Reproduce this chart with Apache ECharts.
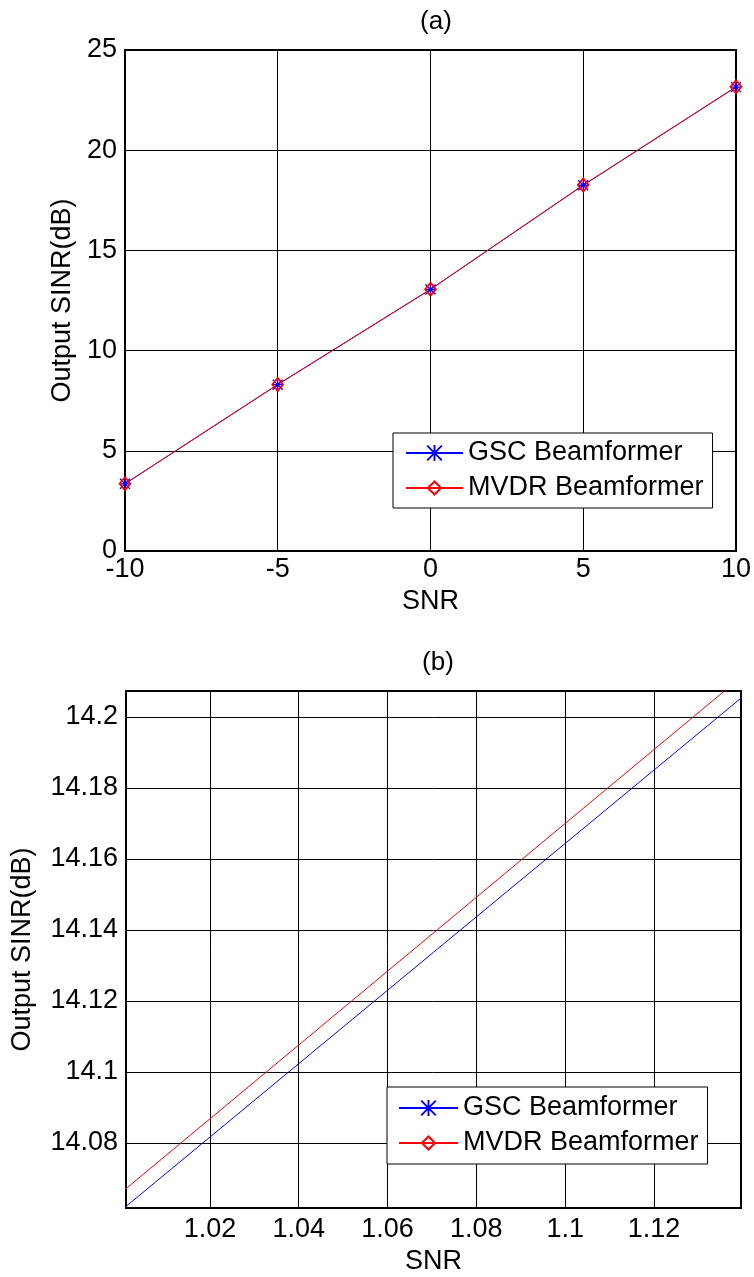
<!DOCTYPE html>
<html>
<head>
<meta charset="utf-8">
<script src="https://cdn.jsdelivr.net/npm/echarts@6/dist/echarts.min.js"></script>
<style>
  html, body { margin: 0; padding: 0; background: #fff; }
  #chart { width: 754px; height: 1277px; }
</style>
</head>
<body>
<div id="chart"></div>
<script>
// subplot (a): full SNR sweep
var snrA = [-10, -5, 0, 5, 10];
var gscA = [3.35, 8.3, 13.05, 18.25, 23.15];
var mvdrA = [3.36, 8.31, 13.06, 18.26, 23.16];

// subplot (b): zoom around SNR = 1
var snrB = [1.0, 1.14];
var gscB = [14.061, 14.2057];
var mvdrB = [14.066, 14.2116];

var xTicksB = [1.02, 1.04, 1.06, 1.08, 1.1, 1.12];
var yTicksB = [14.08, 14.1, 14.12, 14.14, 14.16, 14.18, 14.2];

var names = ['GSC Beamformer', 'MVDR Beamformer'];

var FONT = "'Liberation Sans', Arial, sans-serif";
var FS = 27;
// asterisk (+ and x) and hollow diamond, drawn as filled paths
var STAR = 'path://M8.8,0L11.2,0L11.2,20L8.8,20Z M0,8.8L20,8.8L20,11.2L0,11.2Z ' +
    'M1.7,0L20,18.3L18.3,20L0,1.7Z M18.3,0L20,1.7L1.7,20L0,18.3Z';
var DIAMOND = 'path://M10,0L20,10L10,20L0,10Z M10,3.6L3.6,10L10,16.4L16.4,10Z';

function pairs(xs, ys) {
    var out = [];
    for (var i = 0; i < xs.length; i++) out.push([xs[i], ys[i]]);
    return out;
}

function axisCommon(extra) {
    var base = {
        type: 'value',
        axisLine: { show: true, onZero: false, lineStyle: { color: '#000', width: 2 } },
        axisTick: { show: false },
        splitLine: { show: true, lineStyle: { color: '#000', width: 1 } },
        axisLabel: { color: '#000', fontSize: FS, fontFamily: FONT },
        nameLocation: 'middle',
        nameTextStyle: { color: '#000', fontSize: FS, fontFamily: FONT }
    };
    for (var k in extra) base[k] = extra[k];
    return base;
}

var myChart = echarts.init(document.getElementById('chart'), null, { renderer: 'canvas' });

var option = {
    backgroundColor: '#fff',
    animation: false,
    title: [
        { text: '(a)', left: 431, top: 4, textAlign: 'center',
          textStyle: { fontSize: 26, fontWeight: 'normal', color: '#000', fontFamily: FONT } },
        { text: '(b)', left: 433, top: 645, textAlign: 'center',
          textStyle: { fontSize: 26, fontWeight: 'normal', color: '#000', fontFamily: FONT } }
    ],
    grid: [
        { left: 125, right: 17, top: 50, height: 501, show: true, borderColor: '#000', borderWidth: 2, backgroundColor: '#fff' },
        { left: 126, right: 13, top: 691, height: 517, show: true, borderColor: '#000', borderWidth: 2, backgroundColor: '#fff' }
    ],
    xAxis: [
        axisCommon({ gridIndex: 0, min: -10, max: 10, interval: 5, name: 'SNR', nameGap: 37,
            axisLabel: { color: '#000', fontSize: FS, fontFamily: FONT, margin: 5 } }),
        axisCommon({ gridIndex: 1, min: 1.0011, max: 1.1396, name: 'SNR', nameGap: 40,
            axisTick: { show: false, customValues: xTicksB },
            axisLabel: { color: '#000', fontSize: FS, fontFamily: FONT, margin: 8, customValues: xTicksB } })
    ],
    yAxis: [
        axisCommon({ gridIndex: 0, min: 0, max: 25, interval: 5, name: 'Output SINR(dB)', nameGap: 47,
            axisLabel: { color: '#000', fontSize: FS, fontFamily: FONT, margin: 8 } }),
        axisCommon({ gridIndex: 1, min: 14.0617, max: 14.2073, name: 'Output SINR(dB)', nameGap: 90,
            axisTick: { show: false, customValues: yTicksB },
            axisLabel: { color: '#000', fontSize: FS, fontFamily: FONT, margin: 8, customValues: yTicksB } })
    ],
    legend: [
        { data: names, orient: 'vertical', left: 393, top: 433, padding: [6, 9, 6, 12],
          itemWidth: 57, itemHeight: 20, itemGap: 7, borderColor: '#000', borderWidth: 1,
          backgroundColor: '#fff', selectedMode: false,
          textStyle: { color: '#000', fontSize: FS, fontFamily: FONT, lineHeight: 28 } },
        { data: names, orient: 'vertical', left: 387, top: 1087, padding: [7, 9, 7, 11],
          itemWidth: 59, itemHeight: 20, itemGap: 7, borderColor: '#000', borderWidth: 1,
          backgroundColor: '#fff', selectedMode: false,
          textStyle: { color: '#000', fontSize: FS, fontFamily: FONT, lineHeight: 28 } }
    ],
    series: [
        { name: names[0], type: 'line', xAxisIndex: 0, yAxisIndex: 0, data: pairs(snrA, gscA),
          symbol: STAR, symbolSize: 11, color: '#0000ff',
          lineStyle: { color: '#0000ff', width: 1 }, itemStyle: { color: '#0000ff' } },
        { name: names[1], type: 'line', xAxisIndex: 0, yAxisIndex: 0, data: pairs(snrA, mvdrA),
          symbol: DIAMOND, symbolSize: [13, 16], color: '#ff0000',
          lineStyle: { color: '#ff0000', width: 1 }, itemStyle: { color: '#ff0000' } },
        { name: names[0], type: 'line', xAxisIndex: 1, yAxisIndex: 1, data: pairs(snrB, gscB),
          symbol: STAR, showSymbol: false, color: '#0000ff',
          lineStyle: { color: '#0000ff', width: 1 }, itemStyle: { color: '#0000ff' } },
        { name: names[1], type: 'line', xAxisIndex: 1, yAxisIndex: 1, data: pairs(snrB, mvdrB),
          symbol: DIAMOND, showSymbol: false, color: '#ff0000',
          lineStyle: { color: '#ff0000', width: 1 }, itemStyle: { color: '#ff0000' } }
    ]
};

myChart.setOption(option);
</script>
</body>
</html>
